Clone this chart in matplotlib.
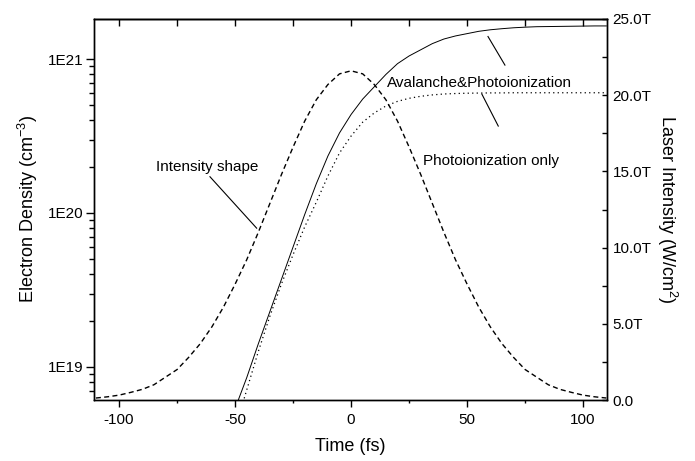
import numpy as np
import matplotlib
matplotlib.use('Agg')
import matplotlib.pyplot as plt
from matplotlib.ticker import FuncFormatter, MultipleLocator, LogLocator, NullFormatter

plt.rcParams['font.family'] = ['Liberation Sans', 'DejaVu Sans']
plt.rcParams['mathtext.fontset'] = 'custom'
plt.rcParams['mathtext.rm'] = 'Liberation Sans'
plt.rcParams['mathtext.default'] = 'regular'
plt.rcParams['axes.unicode_minus'] = False

# time grid (fs)
time_fs = [-110, -105, -100, -95, -90, -85, -80, -75, -70, -65, -60, -55, -50,
           -45, -40, -35, -30, -25, -20, -15, -10, -5, 0, 5, 10, 15, 20, 25,
           30, 35, 40, 45, 50, 55, 60, 65, 70, 75, 80, 85, 90, 95, 100, 105, 110]

# laser intensity, units of 1e12 W/cm2 (right axis)
intensity_T = [0.13, 0.21, 0.32, 0.5, 0.7, 1.0, 1.5, 2.0, 2.8, 3.7, 4.8, 6.1, 7.6,
               9.2, 11.0, 12.9, 14.8, 16.6, 18.3, 19.7, 20.7, 21.4, 21.6, 21.4, 20.7,
               19.7, 18.3, 16.6, 14.8, 12.9, 11.0, 9.2, 7.6, 6.1, 4.8, 3.7, 2.8, 2.0,
               1.5, 1.0, 0.7, 0.5, 0.32, 0.21, 0.13]

# log10 of electron density (cm^-3), starting at t = -50 fs
time_ne = time_fs[12:]
log_ne_aval = [18.73, 18.93, 19.15, 19.36, 19.57, 19.78, 19.99, 20.19, 20.37, 20.52,
               20.64, 20.74, 20.82, 20.90, 20.97, 21.02, 21.06, 21.10, 21.13, 21.15,
               21.165, 21.18, 21.19, 21.197, 21.203, 21.207, 21.21, 21.211, 21.212,
               21.213, 21.214, 21.215, 21.215]
log_ne_photo = [18.60, 18.85, 19.10, 19.33, 19.54, 19.73, 19.91, 20.07, 20.24, 20.39,
                20.50, 20.59, 20.65, 20.695, 20.725, 20.745, 20.758, 20.767, 20.773,
                20.776, 20.778, 20.779, 20.78, 20.78, 20.781, 20.781, 20.781, 20.781,
                20.781, 20.781, 20.781, 20.781, 20.781]

ne_aval = 10 ** np.array(log_ne_aval)
ne_photo = 10 ** np.array(log_ne_photo)

fig = plt.figure(figsize=(6.95, 4.61), dpi=100)
ax = fig.add_axes([0.1353, 0.1323, 0.7381, 0.8265])
ax2 = ax.twinx()

ax.plot(time_ne, ne_aval, color='black', lw=0.7)
ax.plot(time_ne, ne_photo, color='black', lw=0.9, linestyle=(0, (1, 2.6)))
ax2.plot(time_fs, intensity_T, color='black', lw=1.0, dashes=(3.6, 2.4))

ax.set_yscale('log')
ax.set_xlim(-110.8, 110.3)
ax.set_ylim(6.1e18, 1.82e21)
ax2.set_ylim(0, 25)

ax.xaxis.set_major_locator(MultipleLocator(50))
ax.xaxis.set_minor_locator(MultipleLocator(25))
ax.yaxis.set_major_locator(LogLocator(base=10, numticks=10))
ax.yaxis.set_minor_locator(LogLocator(base=10, subs=np.arange(2, 10), numticks=20))
ax.yaxis.set_minor_formatter(NullFormatter())
ax.yaxis.set_major_formatter(FuncFormatter(lambda v, p: '1E%d' % round(np.log10(v))))

ax2.yaxis.set_major_locator(MultipleLocator(5))
ax2.yaxis.set_minor_locator(MultipleLocator(2.5))
ax2.yaxis.set_major_formatter(FuncFormatter(lambda v, p: '0.0' if v == 0 else '%.1fT' % v))

ax.tick_params(axis='x', which='major', direction='out', length=5, width=1, labelsize=11, pad=4)
ax.tick_params(axis='x', which='minor', direction='out', length=2.5, width=1)
ax.tick_params(axis='y', which='major', direction='out', length=5.8, width=1, labelsize=11, pad=1.5)
ax.tick_params(axis='y', which='minor', direction='out', length=3.4, width=1)
ax2.tick_params(axis='y', which='both', direction='in', length=3.5, width=1, labelsize=11, pad=4)

top = ax.secondary_xaxis('top')
top.set_xticks(list(range(-100, 101, 25)))
top.set_xticklabels([])
top.tick_params(axis='x', direction='in', length=5, width=1)

for a in (ax, ax2):
    for s in a.spines.values():
        s.set_linewidth(1.0)
top.spines['top'].set_linewidth(1.0)

ax.set_xlabel('Time (fs)', fontsize=13, labelpad=8)
ax.set_ylabel('Electron Density (cm$^{-3}$)', fontsize=13, labelpad=6)
ax2.set_ylabel('Laser Intensity (W/cm$^{2}$)', fontsize=13, rotation=270, labelpad=20)

# labels with leader lines
ax.text(0.121, 0.612, 'Intensity shape', transform=ax.transAxes, fontsize=11,
        ha='left', va='center')
ax.plot([0.226, 0.317], [0.586, 0.451], transform=ax.transAxes, color='black', lw=0.8)
ax.text(0.571, 0.831, 'Avalanche&Photoionization', transform=ax.transAxes, fontsize=11,
        ha='left', va='center')
ax.plot([0.768, 0.801], [0.954, 0.879], transform=ax.transAxes, color='black', lw=0.8)
ax.text(0.641, 0.628, 'Photoionization only', transform=ax.transAxes, fontsize=11,
        ha='left', va='center')
ax.plot([0.756, 0.788], [0.803, 0.719], transform=ax.transAxes, color='black', lw=0.8)

fig.savefig('out.png', dpi=100)
